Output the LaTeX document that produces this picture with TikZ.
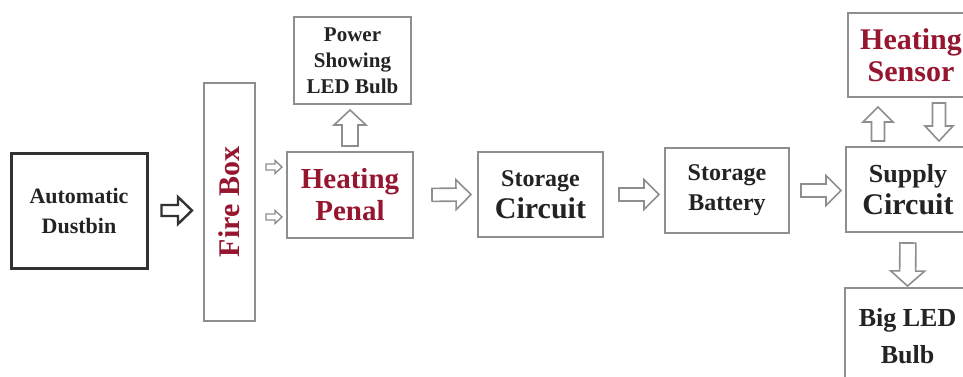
\documentclass[tikz,border=0pt]{standalone}
\usepackage{fontspec}
\setmainfont{Liberation Serif}
\usetikzlibrary{calc, positioning}
\definecolor{boxgray}{RGB}{142, 142, 142}
\definecolor{dustdark}{RGB}{50, 50, 50}
\definecolor{labelred}{RGB}{150, 22, 48}
\definecolor{labelink}{RGB}{35, 35, 35}
\tikzset{
  % block boxes
  box/.style={
    draw=boxgray, fill=white, line width=2pt,
    inner sep=2pt, align=center, font=\bfseries, text=labelink
  },
  boxdark/.style={box, draw=dustdark, line width=3pt},
  redtext/.style={text=labelred},
  %
  % hollow block arrows (polygon built between two anchors)
  ba shaft/.store in=\bashaft, ba head/.store in=\bahead,
  ba len/.store in=\balen,
  ba from/.store in=\bafrom, ba to/.store in=\bato,
  ba shaft=6.5pt, ba head=15pt, ba len=15pt, ba from=5pt, ba to=5pt,
  blockarrow/.style={
    draw=boxgray, fill=white, line width=1.6pt, line join=miter,
    to path={
      let \p1=($(\tikztostart)!\bafrom!(\tikztotarget)$),
          \p2=($(\tikztotarget)!\bato!(\tikztostart)$),
          \p3=($(\p2)!\balen!(\p1)$) in
      ($(\p1)!\bashaft!90:(\p2)$) -- ($(\p3)!\bashaft!90:(\p2)$)
      -- ($(\p3)!\bahead!90:(\p2)$) -- (\p2)
      -- ($(\p3)!\bahead!-90:(\p2)$) -- ($(\p3)!\bashaft!-90:(\p2)$)
      -- ($(\p1)!\bashaft!-90:(\p2)$) -- cycle}
  },
  bigarrow/.style={blockarrow, ba shaft=6.5pt, ba head=15pt, ba len=15pt},
  smallarrow/.style={blockarrow, line width=1.4pt,
    ba shaft=3pt, ba head=6.5pt, ba len=7pt},
  darkarrow/.style={blockarrow, draw=dustdark, line width=2.4pt,
    ba shaft=5.5pt, ba head=13.5pt, ba len=14pt},
}

\begin{document}
\begin{tikzpicture}[x=1pt, y=1pt]
  \useasboundingbox (0,0) rectangle (963,376);

  %% -- blocks --------------------------------------------------------------
  \node[boxdark, minimum width=136pt, minimum height=115pt,
        font=\bfseries\fontsize{22}{30}\selectfont]
        (dust) at (79, 165.5) {Automatic\\Dustbin};
  \node[box, redtext, minimum width=51pt, minimum height=238pt,
        font=\bfseries\fontsize{30}{32}\selectfont]
        (fire) at (229.5, 174) {\rotatebox{90}{Fire Box}};
  \node[box, redtext, minimum width=126pt, minimum height=86pt,
        font=\bfseries\fontsize{29}{32}\selectfont]
        (hp) at (350, 181) {Heating\\Penal};
  \node[box, minimum width=117pt, minimum height=87pt,
        font=\bfseries\fontsize{21}{26}\selectfont]
        (power) at (352.5, 315.5) {Power\\Showing\\LED Bulb};
  \node[box, minimum width=125pt, minimum height=85pt,
        font=\bfseries\fontsize{24}{32}\selectfont]
        (sc) at (540.5, 181.5) {Storage\\{\fontsize{30}{32}\selectfont Circuit}};
  \node[box, minimum width=124pt, minimum height=85pt,
        font=\bfseries\fontsize{24}{30}\selectfont]
        (sb) at (727, 185.5) {Storage\\Battery};
  \node[box, minimum width=124pt, minimum height=85pt,
        font=\bfseries\fontsize{26}{32}\selectfont]
        (supc) at (908, 186.5) {Supply\\{\fontsize{30}{32}\selectfont Circuit}};
  \node[box, redtext, minimum width=126pt, minimum height=84pt,
        font=\bfseries\fontsize{30}{32}\selectfont]
        (sensor) at (911, 321) {Heating\\Sensor};
  \node[box, minimum width=125pt, minimum height=96pt,
        font=\bfseries\fontsize{26}{37}\selectfont]
        (bigled) at (907.5, 40) {Big LED\\Bulb};

  %% -- arrow ends off the block centres ------------------------------------
  \coordinate (firein) at (dust.east -| fire.west);
  \coordinate (hpin1)  at ($(hp.west)+(0,28)$);
  \coordinate (hpin2)  at ($(hp.west)+(0,-22)$);
  \coordinate (fbout1) at (fire.east |- hpin1);
  \coordinate (fbout2) at (fire.east |- hpin2);
  \coordinate (pwin)   at (hp.north |- power.south);
  \coordinate (sbin)   at (sc.east -| sb.west);
  \coordinate (supin)  at (sb.east -| supc.west);
  \coordinate (supup)  at ($(supc.north)+(-30,0)$);
  \coordinate (sensup) at (supup |- sensor.south);
  \coordinate (sensdn) at ($(sensor.south)+(28,0)$);
  \coordinate (supdn)  at (sensdn |- supc.north);

  %% -- block arrows --------------------------------------------------------
  \draw[darkarrow, ba from=13pt, ba to=11pt] (dust.east) to (firein);
  \draw[smallarrow, ba from=10pt, ba to=4pt] (fbout1) to (hpin1);
  \draw[smallarrow, ba from=10pt, ba to=4pt] (fbout2) to (hpin2);
  \draw[bigarrow, ba head=16pt, ba shaft=8pt] (hp.north) to (pwin);
  \draw[bigarrow, ba from=18pt, ba to=6pt] (hp.east) to (sc.west);
  \draw[bigarrow, ba from=15pt, ba to=5pt] (sc.east) to (sbin);
  \draw[bigarrow, ba from=11pt, ba to=4pt] (sb.east) to (supin);
  \draw[bigarrow, ba to=9pt] (supup) to (sensup);
  \draw[bigarrow, ba head=14pt, ba to=5pt] (sensdn) to (supdn);
  \draw[bigarrow, ba head=17pt, ba shaft=8pt, ba from=10pt, ba to=1pt]
    (supc.south) to (bigled.north);

\end{tikzpicture}
\end{document}
